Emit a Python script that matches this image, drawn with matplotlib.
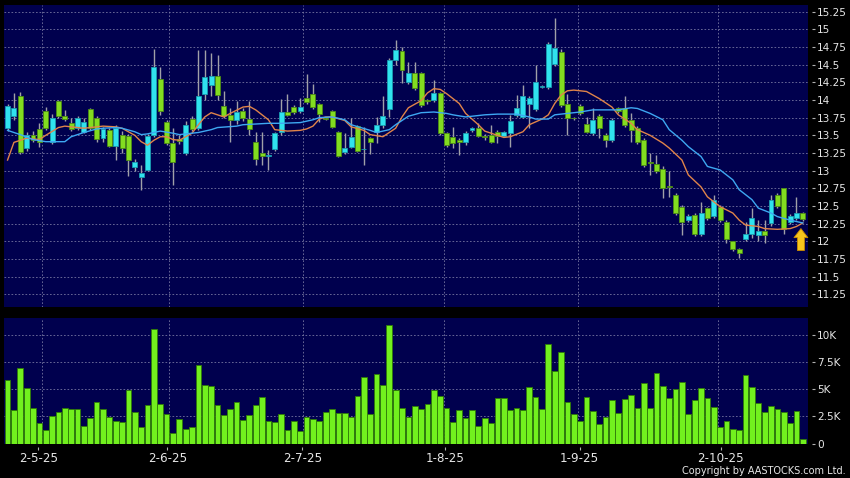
import matplotlib
matplotlib.use("Agg")
import matplotlib.pyplot as plt
import numpy as np

# ---------------- data ----------------
opens = [13.60, 13.77, 14.06, 13.32, 13.50, 13.59, 13.84, 13.41, 13.99, 13.78,
         13.68, 13.61, 13.55, 13.87, 13.74, 13.46, 13.58, 13.35, 13.51, 13.49,
         13.05, 12.91, 13.01, 13.51, 14.30, 13.69, 13.39, 13.45, 13.25, 13.73,
         13.60, 14.09, 14.21, 14.34, 13.92, 13.79, 13.71, 13.84, 13.73, 13.41,
         13.25, 13.21, 13.30, 13.54, 13.83, 13.90, 13.84, 14.03, 14.08, 13.94,
         13.74, 13.84, 13.54, 13.26, 13.34, 13.63, 13.30, 13.46, 13.54, 13.64,
         13.87, 14.56, 14.70, 14.26, 14.38, 14.38, 14.00, 14.00, 14.10, 13.53,
         13.48, 13.44, 13.40, 13.58, 13.60, 13.49, 13.51, 13.55, 13.49, 13.53,
         13.79, 13.76, 13.94, 13.87, 14.19, 14.18, 14.51, 14.68, 13.95, 13.745,
         13.92, 13.66, 13.53, 13.78, 13.51, 13.43, 13.88, 13.88, 13.72, 13.60,
         13.43, 13.115, 13.10, 13.03, 12.775, 12.66, 12.49, 12.30, 12.37, 12.11,
         12.47, 12.36, 12.49, 12.28, 12.00, 11.89, 12.04, 12.10, 12.09, 12.15,
         12.26, 12.66, 12.75, 12.28, 12.33, 12.40]
highs = [13.95, 14.10, 14.12, 13.55, 13.56, 13.68, 13.90, 13.80, 14.00, 13.86,
         13.75, 13.78, 13.75, 13.88, 13.78, 13.62, 13.60, 13.65, 13.56, 13.52,
         13.17, 13.08, 13.52, 14.72, 14.47, 13.72, 13.60, 13.50, 13.70, 13.77,
         14.71, 14.71, 14.66, 14.64, 14.13, 13.88, 13.98, 13.88, 13.99, 13.55,
         13.55, 13.29, 13.55, 14.02, 14.08, 13.93, 14.03, 14.37, 14.22, 13.96,
         13.76, 13.86, 13.56, 13.53, 13.74, 13.65, 13.62, 13.48, 13.76, 14.06,
         14.60, 14.85, 14.75, 14.54, 14.54, 14.40, 14.02, 14.28, 14.12, 13.55,
         13.62, 13.46, 13.56, 13.62, 13.67, 13.52, 13.65, 13.58, 13.56, 13.79,
         14.07, 14.21, 14.06, 14.49, 14.21, 14.82, 15.16, 14.72, 14.09, 13.76,
         13.94, 13.76, 13.88, 13.80, 13.53, 13.75, 13.90, 14.05, 13.81, 13.63,
         13.46, 13.25, 13.22, 13.06, 12.99, 12.68, 12.52, 12.38, 12.40, 12.56,
         12.49, 12.66, 12.52, 12.30, 12.01, 11.90, 12.28, 12.47, 12.30, 12.30,
         12.66, 12.68, 12.76, 12.38, 12.63, 12.42]
lows = [13.56, 13.72, 13.24, 13.28, 13.40, 13.34, 13.58, 13.38, 13.74, 13.70,
        13.56, 13.58, 13.53, 13.58, 13.40, 13.40, 13.33, 13.15, 13.25, 12.92,
        13.00, 12.73, 12.99, 13.48, 13.79, 13.36, 12.80, 13.38, 13.22, 13.56,
        13.58, 14.00, 14.05, 14.00, 13.75, 13.41, 13.66, 13.70, 13.51, 13.08,
        13.08, 13.01, 13.28, 13.50, 13.77, 13.80, 13.82, 13.95, 13.87, 13.69,
        13.71, 13.60, 13.19, 13.23, 13.32, 13.26, 13.08, 13.24, 13.39, 13.60,
        13.76, 14.50, 14.24, 14.22, 14.14, 13.90, 13.95, 13.97, 13.50, 13.33,
        13.32, 13.22, 13.37, 13.55, 13.47, 13.44, 13.39, 13.39, 13.47, 13.34,
        13.76, 13.74, 13.60, 13.85, 14.17, 14.16, 14.48, 13.90, 13.51, 13.72,
        13.79, 13.53, 13.50, 13.46, 13.34, 13.40, 13.81, 13.62, 13.41, 13.38,
        13.05, 12.94, 12.96, 12.61, 12.63, 12.37, 12.09, 12.27, 12.08, 12.07,
        12.30, 12.33, 12.28, 11.97, 11.86, 11.76, 12.00, 12.05, 12.00, 11.97,
        12.22, 12.47, 12.11, 12.25, 12.30, 12.29]
closes = [13.92, 13.88, 13.26, 13.50, 13.44, 13.41, 13.60, 13.74, 13.77, 13.73,
          13.59, 13.74, 13.69, 13.61, 13.45, 13.59, 13.35, 13.60, 13.32, 13.15,
          13.12, 12.96, 13.49, 14.47, 13.84, 13.39, 13.12, 13.42, 13.65, 13.59,
          14.06, 14.32, 14.34, 14.07, 13.78, 13.71, 13.83, 13.74, 13.59, 13.16,
          13.21, 13.21, 13.53, 13.83, 13.79, 13.83, 13.90, 13.97, 13.90, 13.80,
          13.73, 13.62, 13.21, 13.32, 13.48, 13.28, 13.30, 13.40, 13.64, 13.77,
          14.56, 14.71, 14.42, 14.38, 14.17, 13.93, 13.98, 14.10, 13.53, 13.36,
          13.39, 13.40, 13.53, 13.60, 13.49, 13.47, 13.41, 13.49, 13.54, 13.70,
          13.88, 14.06, 14.03, 14.26, 14.19, 14.79, 14.73, 13.93, 13.74, 13.74,
          13.81, 13.55, 13.72, 13.61, 13.43, 13.72, 13.84, 13.65, 13.58, 13.41,
          13.08, 13.11, 12.99, 12.75, 12.77, 12.40, 12.28, 12.36, 12.11, 12.40,
          12.33, 12.58, 12.30, 12.04, 11.89, 11.84, 12.10, 12.33, 12.15, 12.09,
          12.59, 12.50, 12.18, 12.36, 12.40, 12.31]
volume_k = [5.85, 3.08, 6.92, 5.08, 3.23, 1.85, 1.29, 2.58, 2.95, 3.32,
            3.14, 3.14, 1.57, 2.37, 3.82, 3.17, 2.49, 2.12, 1.94, 4.92,
            2.89, 1.48, 3.54, 10.55, 3.66, 2.74, 0.95, 2.28, 1.35, 1.54,
            7.23, 5.42, 5.29, 3.54, 2.62, 3.20, 3.82, 2.15, 2.65, 3.57,
            4.25, 2.09, 1.94, 2.68, 1.20, 2.12, 1.17, 2.49, 2.25, 2.06,
            2.92, 3.20, 2.80, 2.80, 2.40, 4.37, 6.09, 2.74, 6.40, 5.42,
            10.92, 4.89, 3.23, 2.43, 3.48, 3.20, 3.66, 4.92, 4.37, 3.23,
            2.00, 3.08, 2.34, 3.05, 1.57, 2.34, 1.85, 4.18, 4.18, 3.08,
            3.23, 3.11, 5.23, 4.25, 3.17, 9.14, 6.65, 8.46, 3.82, 2.74,
            2.06, 4.28, 2.98, 1.82, 2.49, 3.97, 2.80, 4.12, 4.52, 3.29,
            5.54, 3.26, 6.46, 5.26, 4.22, 5.02, 5.66, 2.68, 4.00, 5.14,
            4.18, 3.35, 1.48, 2.03, 1.35, 1.23, 6.28, 5.20, 3.78, 2.89,
            3.45, 3.20, 2.89, 1.91, 3.02, 0.37]

# short moving average (orange) at these bar numbers
ma_fast_bar = [1, 2, 4, 6, 7, 9, 10, 11, 13, 15, 16, 18, 19, 21, 22, 23, 24, 25, 26, 27,
               28, 30, 31, 32, 33, 35, 36, 38, 39, 40, 42, 43, 45, 47, 48, 49, 50, 51, 52, 54,
               55, 57, 58, 60, 62, 63, 64, 66, 67, 68, 69, 70, 72, 73, 75, 76, 78, 79, 80, 82,
               83, 85, 86, 87, 88, 89, 90, 92, 94, 95, 96, 97, 99, 100, 102, 104, 105, 107, 108, 110,
               111, 113, 115, 116, 117, 119, 120, 122, 124, 125, 126]
ma_fast = [13.15, 13.40, 13.46, 13.44, 13.50, 13.61, 13.63, 13.62, 13.60, 13.62, 13.63, 13.62, 13.60, 13.50, 13.41, 13.36, 13.43, 13.48, 13.48, 13.44,
           13.43, 13.53, 13.65, 13.76, 13.82, 13.76, 13.81, 13.90, 13.91, 13.86, 13.72, 13.58, 13.56, 13.57, 13.59, 13.63, 13.73, 13.76, 13.76, 13.71,
           13.62, 13.57, 13.51, 13.48, 13.60, 13.76, 13.89, 13.99, 14.10, 14.16, 14.15, 14.09, 13.95, 13.81, 13.65, 13.56, 13.50, 13.47, 13.48, 13.55,
           13.65, 13.73, 13.79, 13.95, 14.07, 14.13, 14.14, 14.12, 14.02, 13.96, 13.90, 13.79, 13.67, 13.58, 13.50, 13.39, 13.32, 13.15, 12.94, 12.77,
           12.63, 12.49, 12.40, 12.30, 12.23, 12.21, 12.18, 12.17, 12.18, 12.21, 12.26]
# longer moving average (blue)
ma_slow_bar = [1, 3, 5, 7, 10, 11, 13, 15, 16, 18, 19, 21, 22, 23, 25, 27, 28, 30, 31, 33,
               34, 37, 38, 40, 42, 44, 47, 49, 50, 52, 54, 55, 58, 59, 61, 62, 64, 66, 68, 70,
               71, 73, 76, 78, 81, 83, 84, 86, 87, 89, 91, 93, 95, 97, 99, 100, 102, 104, 105, 107,
               108, 110, 111, 113, 115, 116, 118, 119, 121, 122, 124, 126]
ma_slow = [13.57, 13.51, 13.44, 13.41, 13.41, 13.48, 13.54, 13.59, 13.60, 13.61, 13.60, 13.55, 13.51, 13.52, 13.56, 13.53, 13.51, 13.53, 13.54, 13.58,
           13.61, 13.63, 13.65, 13.66, 13.67, 13.67, 13.68, 13.72, 13.75, 13.76, 13.72, 13.65, 13.57, 13.54, 13.58, 13.65, 13.77, 13.82, 13.83, 13.81,
           13.79, 13.76, 13.79, 13.80, 13.80, 13.76, 13.73, 13.73, 13.79, 13.81, 13.83, 13.86, 13.86, 13.86, 13.89, 13.88, 13.81, 13.72, 13.58, 13.43,
           13.34, 13.20, 13.06, 13.01, 12.87, 12.73, 12.59, 12.47, 12.40, 12.35, 12.30, 12.26]

date_labels = ["2-5-25", "2-6-25", "2-7-25", "1-8-25", "1-9-25", "2-10-25"]
date_label_bar = [5.83, 26.1, 47.35, 69.7, 90.9, 113.07]
month_grid_bar = [6.46, 26.43, 47.5, 69.6, 90.7, 112.6]
price_ticks = [11.25, 11.5, 11.75, 12, 12.25, 12.5, 12.75, 13, 13.25, 13.5, 13.75,
               14, 14.25, 14.5, 14.75, 15, 15.25]
price_tick_labels = ["11.25", "11.5", "11.75", "12", "12.25", "12.5", "12.75", "13", "13.25",
                     "13.5", "13.75", "14", "14.25", "14.5", "14.75", "15", "15.25"]
vol_ticks = [0, 2.5, 5, 7.5, 10]
vol_tick_labels = ["0", "2.5K", "5K", "7.5K", "10K"]
signal_bar = 125.7
signal_range = (11.87, 12.18)

# ---------------- style ----------------
W, H = 850, 478
BG = "#000000"
PANEL = "#00004e"
GRID = "#7474a0"
TXT = "#e6e6e6"
UP_FACE, UP_EDGE = "#30e2ee", "#1a9db0"
DN_FACE, DN_EDGE = "#82dc20", "#4c8c14"
WICK = "#a0a0a8"
VOL_FACE, VOL_EDGE = "#72f01e", "#2f7a08"

plt.rcParams["font.family"] = ["DejaVu Sans"]
fig = plt.figure(figsize=(W / 100, H / 100), dpi=100, facecolor=BG)

def px_axes(left, top, right, bottom):
    return fig.add_axes([left / W, 1 - bottom / H, (right - left) / W, (bottom - top) / H])

ax = px_axes(4, 5, 808.3, 306.7)
axv = px_axes(4, 318.3, 808.3, 443.5)

x = np.arange(1, len(closes) + 1)
o = np.array(opens); c = np.array(closes); h = np.array(highs); l = np.array(lows)
up = c >= o

for a in (ax, axv):
    a.set_facecolor(PANEL)
    for s in a.spines.values():
        s.set_visible(False)
    a.set_xlim(0.44, 126.86)
    for g in month_grid_bar:
        a.axvline(g, color=GRID, lw=0.6, ls=(0, (2, 2.2)), zorder=1)

# price panel
ax.set_ylim(11.075, 15.344)
for t in price_ticks:
    ax.axhline(t, color=GRID, lw=0.6, ls=(0, (2, 2.2)), zorder=1)
ax.vlines(x, l, h, color=WICK, lw=1.0, zorder=2)
body_bottom = np.minimum(o, c)
body_h = np.maximum(np.abs(c - o), 0.012)
ax.bar(x, body_h, bottom=body_bottom, width=0.78,
       color=np.where(up, UP_FACE, DN_FACE), edgecolor=np.where(up, UP_EDGE, DN_EDGE),
       linewidth=0.6, zorder=3)
ax.plot(ma_fast_bar, ma_fast, color="#e0844a", lw=1.0, zorder=4)
ax.plot(ma_slow_bar, ma_slow, color="#3ea8f2", lw=1.0, zorder=4)
ax.annotate("", xy=(signal_bar, signal_range[1]), xytext=(signal_bar, signal_range[0]),
            arrowprops=dict(arrowstyle="simple,head_length=0.65,head_width=1.0,tail_width=0.5",
                            mutation_scale=10, fc="#f7c51c", ec="#c98a00", lw=0.6,
                            shrinkA=0, shrinkB=0), zorder=5)

ax.yaxis.tick_right()
ax.set_yticks(price_ticks)
ax.set_yticklabels(price_tick_labels)
ax.set_xticks([])
ax.spines["right"].set_position(("outward", 2.5))

# volume panel
axv.set_ylim(0, 11.55)
for t in vol_ticks[1:]:
    axv.axhline(t, color=GRID, lw=0.6, ls=(0, (2, 2.2)), zorder=1)
axv.bar(x, volume_k, width=0.9, color=VOL_FACE, edgecolor=VOL_EDGE, linewidth=0.6, zorder=3)
axv.yaxis.tick_right()
axv.set_yticks(vol_ticks)
axv.set_yticklabels(vol_tick_labels)
axv.spines["right"].set_position(("outward", 2.5))
axv.set_xticks(date_label_bar)
axv.set_xticklabels(date_labels)
axv.spines["bottom"].set_position(("outward", 2.2))

for a in (ax, axv):
    a.tick_params(axis="y", colors="#b0b0b0", labelsize=7.6, length=2.2, width=0.8, pad=1.6)
    for lab in a.get_yticklabels():
        lab.set_color(TXT)
axv.tick_params(axis="x", colors="#b0b0b0", labelsize=8.6, length=2.2, width=0.8, pad=2.0)
for lab in axv.get_xticklabels():
    lab.set_color(TXT)

fig.text(846 / W, 1 - 471.5 / H, "Copyright by AASTOCKS.com Ltd.", color=TXT,
         fontsize=7.0, ha="right", va="center")

fig.savefig("out.png", dpi=100, facecolor=BG)
